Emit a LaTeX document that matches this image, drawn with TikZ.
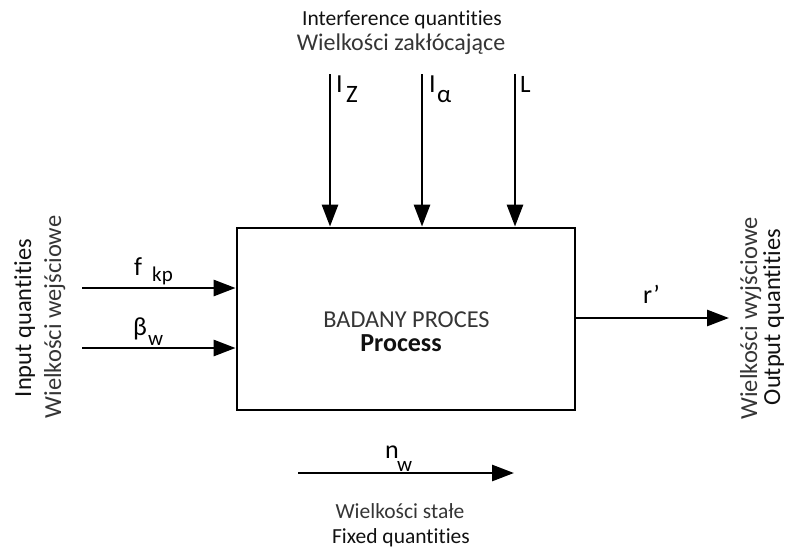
\documentclass[tikz,border=0pt]{standalone}
\usepackage{fontspec}
\setmainfont{Carlito}[Ligatures={NoCommon}]
\usetikzlibrary{arrows.meta}
\definecolor{pl}{HTML}{353535}
\definecolor{en}{HTML}{111111}
\begin{document}
\begin{tikzpicture}[x=1pt,y=1pt,
  arr/.style={line width=2.8pt,-{Triangle[length=22pt,width=16pt]}},
  txt/.style={inner sep=0pt,anchor=base,text=en},
  sym/.style={inner sep=0pt,anchor=base west,font=\fontsize{26}{28}\selectfont},
  sub/.style={inner sep=0pt,anchor=base west,font=\fontsize{21}{23}\selectfont}]
\useasboundingbox (0,0) rectangle (787,-552);
\node[draw,line width=2.8pt,minimum width=338pt,minimum height=182pt,inner sep=0pt] (box) at (406,-319) {};
\node[txt,text=pl,font=\fontsize{24.3}{26}\selectfont] (t1) at (406.5,-327) {BADANY PROCES};
\node[txt,font=\fontsize{26}{28}\selectfont\bfseries] (t2) at (401,-351) {Process};
% top
\node[txt,font=\fontsize{21.5}{23}\selectfont] (ti) at (402,-25) {Interference quantities};
\node[txt,text=pl,font=\fontsize{24}{26}\selectfont] (tw) at (401,-50) {Wielkości zakłócające};
\coordinate (a1) at (330,-74);
\coordinate (a2) at (422,-74);
\coordinate (a3) at (515,-74);
\draw[arr] (a1) -- (a1 |- box.north);
\draw[arr] (a2) -- (a2 |- box.north);
\draw[arr] (a3) -- (a3 |- box.north);
\node[sym] (iz) at (336,-92) {I};
\node[sub,font=\fontsize{25}{27}\selectfont] (izs) at (346,-102) {Z};
\node[sym] (ia) at (429,-92) {I};
\node[sub,font=\fontsize{25}{27}\selectfont] (ias) at (437,-102) {α};
\node[sym,font=\fontsize{25}{27}\selectfont] (lL) at (520,-92) {L};
% left
\coordinate (b1) at (82,-288);
\coordinate (b2) at (82,-348);
\draw[arr] (b1) -- (b1 -| box.west);
\draw[arr] (b2) -- (b2 -| box.west);
\node[sym] (f) at (134,-275) {f};
\node[sub] (fs) at (152,-281) {kp};
\node[sym] (be) at (133,-335) {β};
\node[sub] (bes) at (148,-345) {w};
\node[txt,rotate=90,font=\fontsize{24.5}{26}\selectfont] (li) at (31,-318) {Input quantities};
\node[txt,rotate=90,text=pl,font=\fontsize{24.5}{26}\selectfont] (lw) at (61,-317) {Wielkości wejściowe};
% right
\coordinate (c1) at (729,-318);
\draw[arr] (c1 -| box.east) -- (c1);
\node[sym] (r) at (643,-303) {r’};
\node[txt,rotate=90,text=pl,font=\fontsize{24.5}{26}\selectfont] (rw) at (757,-318.5) {Wielkości wyjściowe};
\node[txt,rotate=90,font=\fontsize{24.5}{26}\selectfont] (ro) at (780,-317) {Output quantities};
% bottom
\coordinate (d1) at (298,-473);
\coordinate (d2) at (514,-473);
\draw[arr] (d1) -- (d2);
\node[sym] (n) at (385,-458) {n};
\node[sub] (ns) at (397,-471) {w};
\node[txt,text=pl,font=\fontsize{21.5}{23}\selectfont] (bw) at (400,-518) {Wielkości stałe};
\node[txt,font=\fontsize{21.5}{23}\selectfont] (bf) at (401,-543) {Fixed quantities};
\end{tikzpicture}
\end{document}
